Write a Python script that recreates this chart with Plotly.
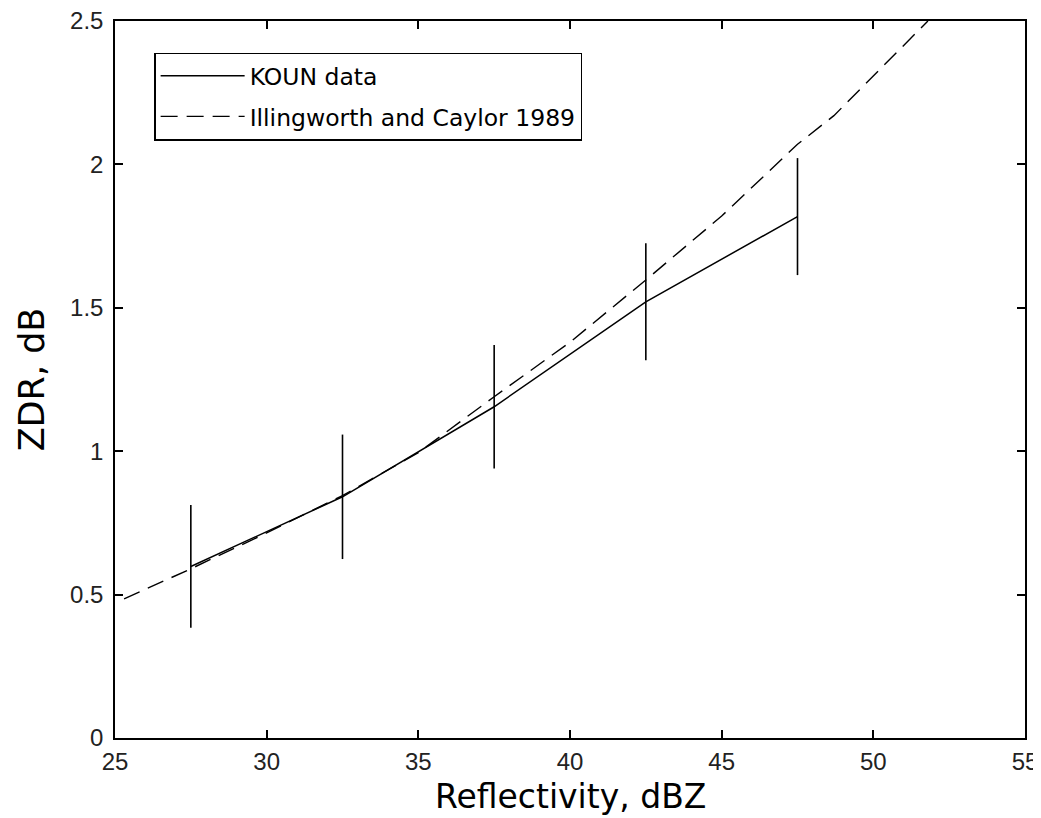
import plotly.graph_objects as go

# KOUN data (bin centres, mean ZDR, spread)
koun_z = [27.5, 32.5, 37.5, 42.5, 47.5]
koun_zdr = [0.598, 0.841, 1.155, 1.521, 1.818]
koun_err = [0.214, 0.217, 0.215, 0.204, 0.204]

# Illingworth and Caylor 1989 relation
ic_z = [25.3, 27.5, 30.0, 32.5, 35.0, 37.5, 40.0, 42.5, 45.0, 47.5, 48.7, 50.5, 51.8]
ic_zdr = [0.485, 0.59, 0.715, 0.845, 0.995, 1.19, 1.38, 1.597, 1.82, 2.07, 2.17, 2.36, 2.5]

x_ticks = [25, 30, 35, 40, 45, 50, 55]
y_ticks = [0, 0.5, 1, 1.5, 2, 2.5]

font_family = "DejaVu Sans"
tick_family = "Liberation Sans"

fig = go.Figure()

fig.add_trace(go.Scatter(
    x=koun_z, y=koun_zdr, mode="lines", name="KOUN data", legendgroup="a",
    line=dict(color="black", width=1.5),
    error_y=dict(type="data", array=koun_err, visible=True,
                 color="black", thickness=1.6, width=0),
))

fig.add_trace(go.Scatter(
    x=ic_z, y=ic_zdr, mode="lines", name="Illingworth and Caylor 1989", legendgroup="b",
    line=dict(color="black", width=1.4, dash="17px,9px"),
))

axis_style = dict(
    showline=True, linecolor="black", linewidth=1.5, mirror="ticks",
    ticks="inside", ticklen=8, tickwidth=1.5, tickcolor="black",
    showgrid=False, zeroline=False, automargin=False, ticklabeloverflow="allow",
    tickfont=dict(family=tick_family, size=24, color="#222"),
)

fig.update_xaxes(range=[25, 55], tickvals=x_ticks, ticklabelstandoff=1, **axis_style)
fig.update_yaxes(
    range=[0, 2.5], tickvals=y_ticks, ticklabelstandoff=5, **axis_style,
    title=dict(text="ZDR, dB", font=dict(family=font_family, size=35, color="black")),
)

# x-axis title placed as an annotation so it can sit lower than the default position
fig.add_annotation(
    text="Reflectivity, dBZ", xref="paper", yref="paper", x=0.5, y=0,
    xanchor="center", yanchor="top", yshift=-37, showarrow=False,
    font=dict(family=font_family, size=33, color="black"),
)

fig.update_layout(
    width=1033, height=810,
    margin=dict(l=107, r=16, t=13, b=80),
    paper_bgcolor="white", plot_bgcolor="white",
    font=dict(family=font_family, color="black"),
    showlegend=True,
    legend=dict(
        x=0.043, y=0.956, xanchor="left", yanchor="top",
        bgcolor="white", bordercolor="black", borderwidth=1.5,
        font=dict(family=font_family, size=23.5, color="black"),
        itemwidth=84, tracegroupgap=7,
    ),
)

fig.write_html("out.html")
